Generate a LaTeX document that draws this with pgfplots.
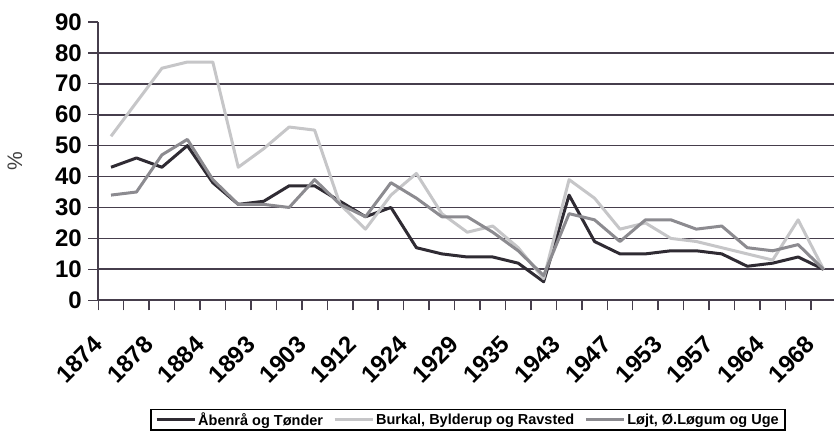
\documentclass[border=0pt]{standalone}
\usepackage{fontspec}
\setmainfont{Liberation Sans}
\usepackage{pgfplots}
\usepackage{pgfplotstable}
\pgfplotsset{compat=1.18}
\definecolor{cdark}{HTML}{2F2B33}
\definecolor{clight}{HTML}{C6C6C8}
\definecolor{cmid}{HTML}{8C8B90}
\definecolor{cgrid}{HTML}{463E4C}

\pgfplotstableread{
x d l m
0 43 53 34
1 46 64 35
2 43 75 47
3 50 77 52
4 38 77 39
5 31 43 31
6 32 49 31
7 37 56 30
8 37 55 39
9 32 31 31
10 27 23 27
11 30 34 38
12 17 41 33
13 15 28 27
14 14 22 27
15 14 24 22
16 12 17 16
17 6 7 8
18 34 39 28
19 19 33 26
20 15 23 19
21 15 25 26
22 16 20 26
23 16 19 23
24 15 17 24
25 11 15 17
26 12 13 16
27 14 26 18
28 10 10 10
}\datatable

\begin{document}
\begin{tikzpicture}
\begin{axis}[
  name=ax,
  scale only axis, width=735.7pt, height=278.5pt,
  xmin=-0.5, xmax=28.41, ymin=0, ymax=90,
  axis x line*=bottom, axis y line*=left,
  axis line style={cgrid, line width=1.7pt, -},
  tick align=outside,
  major tick length=10pt,
  every tick/.style={cgrid, line width=1.5pt},
  ytick={0,10,...,90},
  extra y ticks={10,20,...,80},
  extra y tick labels={},
  extra y tick style={grid=major, major tick length=0pt},
  grid style={cgrid, line width=1.8pt},
  xtick={-0.5,0.5,...,27.5},
  xticklabel=\empty,
  extra x ticks={0,2,...,28},
  extra x tick labels={1874,1878,1884,1893,1903,1912,1924,1929,1935,1943,1947,1953,1957,1964,1968},
  extra x tick style={major tick length=0pt,
    xticklabel style={font=\fontsize{24}{24}\selectfont\bfseries, inner sep=0pt, xshift=-19pt, yshift=-34pt, rotate=45, anchor=north east}},
  /pgf/number format/assume math mode=true,
  yticklabel style={font=\fontsize{24}{24}\selectfont\bfseries, xshift=-3pt},
  ylabel={\%},
  ylabel style={at={(axis description cs:-0.1132,0.5)}, anchor=center, font=\fontsize{21}{21}\selectfont, text=black!75},
  legend columns=3,
  legend style={at={(0.5025,-0.4284)}, anchor=center, draw=black, line width=1.5pt,
    font=\fontsize{14.5}{16}\selectfont\bfseries,
    inner xsep=4pt, inner ysep=1pt,
    /tikz/every even column/.append style={column sep=8pt}},
  legend image code/.code={\draw[#1] (0pt,0pt) -- (38pt,0pt);},
]
\addplot[cdark, line width=3pt, line join=round] table[x=x, y=d] {\datatable};
\addlegendentry{Åbenrå og Tønder}
\addplot[clight, line width=3pt, line join=round] table[x=x, y=l] {\datatable};
\addlegendentry{Burkal, Bylderup og Ravsted}
\addplot[cmid, line width=3pt, line join=round] table[x=x, y=m] {\datatable};
\addlegendentry{Løjt, Ø.Løgum og Uge}
\end{axis}
\pgfresetboundingbox
\path[use as bounding box] ([xshift=-98.3pt,yshift=-132.7pt]ax.south west) rectangle ([xshift=735.7pt,yshift=300.3pt]ax.south west);
\end{tikzpicture}
\end{document}
